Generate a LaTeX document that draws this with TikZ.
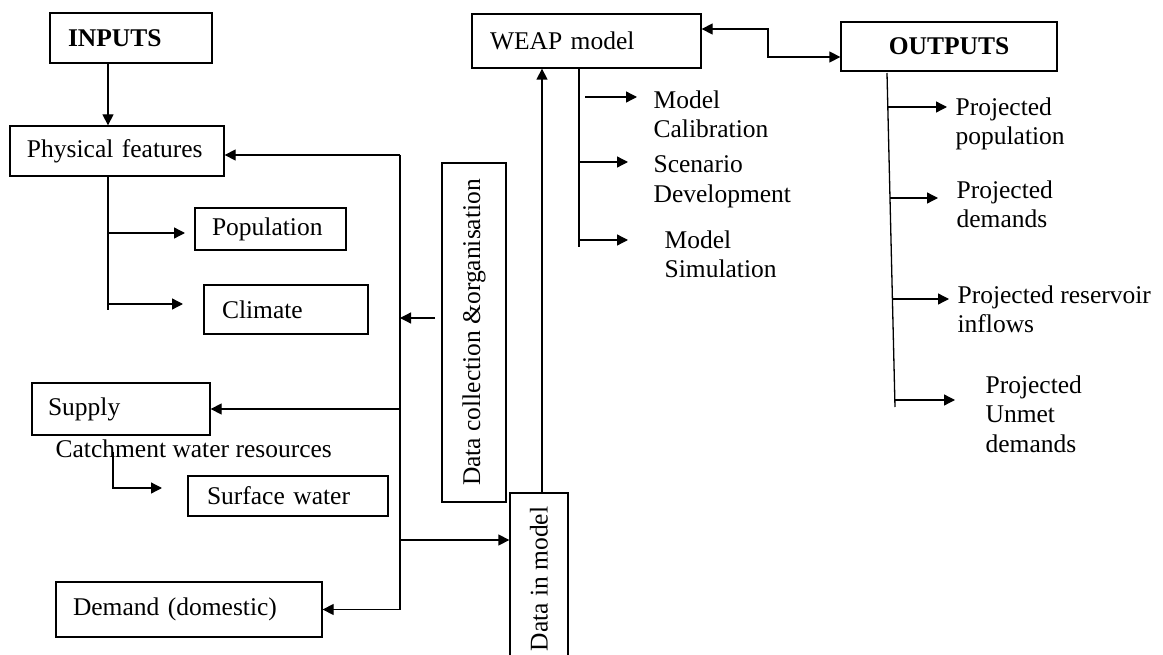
\documentclass[tikz,border=0pt]{standalone}
\usepackage{fontspec}
\setmainfont{Liberation Serif}
\usetikzlibrary{arrows.meta}
\begin{document}
\begin{tikzpicture}[x=1pt,y=-1pt,line width=1.3pt,
  font=\fontsize{25.5}{29.5}\selectfont,
  box/.style={draw,rectangle,inner sep=0pt,align=left},
  vbox/.style={draw,rectangle,inner sep=0pt,rotate=90},
  lbl/.style={anchor=north west,inner sep=0pt,align=left},
  tip/.tip={Triangle[length=11pt,width=11pt]},
  arr/.style={-tip},
  arrboth/.style={tip-tip}]
\clip (0,0) rectangle (1163,655);
% boxes
\node[box,minimum width=162pt,minimum height=50pt,text width=126pt,inner xsep=18pt] (inputs) at (131,38) {\textbf{INPUTS}};
\node[box,minimum width=214pt,minimum height=50pt,text width=180pt,inner xsep=17pt] (phys) at (117,151) {Physical features};
\node[box,minimum width=151pt,minimum height=42pt,text width=117pt,inner xsep=17pt] (pop) at (270.5,229) {Population};
\node[box,minimum width=164pt,minimum height=49pt,text width=128pt,inner xsep=18pt] (clim) at (286,309.5) {Climate};
\node[box,minimum width=178pt,minimum height=52pt,text width=146pt,inner xsep=16pt] (supply) at (121,409) {Supply};
\node[anchor=base west,inner sep=0pt] (catch) at (55,457) {Catchment water resources};
\node[box,minimum width=200pt,minimum height=40pt,text width=162pt,inner xsep=19pt] (surf) at (288,496) {Surface water};
\node[box,minimum width=266pt,minimum height=55pt,text width=232pt,inner xsep=17pt] (dem) at (189,609.5) {Demand (domestic)};
\node[box,minimum width=229pt,minimum height=54pt,text width=193pt,inner xsep=18pt] (weap) at (586.5,41) {WEAP model};
\node[draw,rectangle,inner sep=0pt,minimum width=216pt,minimum height=49pt] (out) at (949,46.5) {\textbf{OUTPUTS}};
\node[vbox,minimum width=339pt,minimum height=64pt] (dc) at (474,332.5) {Data collection \&organisation};
\node[vbox,minimum width=172pt,minimum height=58pt] (dim) at (539,579) {Data in model};
% labels
\node[lbl] (mc) at (653,90) {Model\\Calibration};
\node[lbl] (sd) at (653,155) {Scenario\\Development};
\node[lbl] (ms) at (664,230) {Model\\Simulation};
\node[lbl] (pp) at (955,97) {Projected\\population};
\node[lbl] (pd) at (956,180) {Projected\\demands};
\node[lbl] (pr) at (957,285) {Projected reservoir\\inflows};
\node[lbl] (pu) at (985,375) {Projected\\Unmet\\demands};
% coordinates
\coordinate (pft) at (108,0);
\coordinate (bus) at (400,0);
\coordinate (up) at (542,0);
\coordinate (wt) at (579,0);
% inputs side
\draw[arr] (pft |- inputs.south) -- (pft |- phys.north);
\draw (pft |- phys.south) -- (108,310);
\draw[arr] (108,233) -- (185,233);
\draw[arr] (108,304) -- (183,304);
\draw (bus |- 0,155) -- (bus |- dem.east);
\draw[arr] (bus |- 0,155) -- (phys.east |- 0,155);
\draw[arr] (435,318) -- (bus |- 0,318);
\draw[arr] (bus |- supply.east) -- (supply.east);
\draw[arr] (bus |- 0,540) -- (dim.north |- 0,540);
\draw[arr] (bus |- dem.east) -- (dem.east);
\draw[arr] (113,452) -- (113,488) -- (162,488);
% model
\draw[arr] (up |- dim.east) -- (up |- weap.south);
\draw[arrboth] (weap.east |- 0,29) -- (768,29) -- (768,57) -- (out.west |- 0,57);
\draw (wt |- weap.south) -- (579,247);
\draw[arr] (585,97) -- (637,97);
\draw[arr] (579,162) -- (628,162);
\draw[arr] (579,240) -- (628,240);
% outputs
\draw (887,73) -- (895,407);
\draw[arr] (888,107) -- (947,107);
\draw[arr] (890,198) -- (938,198);
\draw[arr] (892.4,299) -- (949,299);
\draw[arr] (894.8,400) -- (955,400);
\end{tikzpicture}
\end{document}
